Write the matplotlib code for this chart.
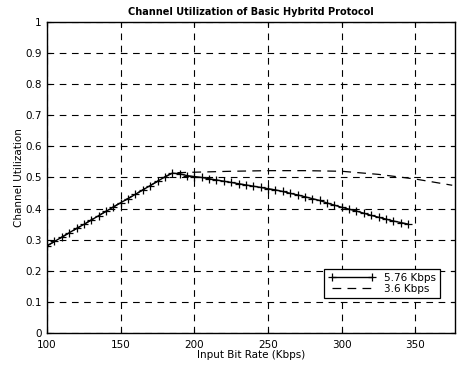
import matplotlib
matplotlib.use("Agg")
import matplotlib.pyplot as plt

# ── Data ───────────────────────────────────────────────────────────
rate_576 = [100, 105, 110, 115, 120, 125, 130, 135, 140, 145,
            150, 155, 160, 165, 170, 175, 180, 185, 190, 195,
            200, 205, 210, 215, 220, 225, 230, 235, 240, 245,
            250, 255, 260, 265, 270, 275, 280, 285, 290, 295,
            300, 305, 310, 315, 320, 325, 330, 335, 340, 345]
util_576 = [0.280, 0.294, 0.308, 0.322, 0.336, 0.349, 0.363, 0.377, 0.391, 0.405,
            0.419, 0.432, 0.446, 0.460, 0.474, 0.488, 0.502, 0.514, 0.512, 0.506,
            0.503, 0.500, 0.496, 0.492, 0.488, 0.484, 0.480, 0.476, 0.472, 0.468,
            0.464, 0.460, 0.455, 0.449, 0.444, 0.438, 0.432, 0.426, 0.418, 0.411,
            0.404, 0.398, 0.392, 0.385, 0.378, 0.372, 0.366, 0.360, 0.355, 0.350]

rate_36 = [100, 150, 185, 200, 225, 250, 275, 300, 325, 350, 375]
util_36 = [0.280, 0.419, 0.515, 0.517, 0.520, 0.522, 0.522, 0.520, 0.510, 0.495, 0.475]

x_ticks = [100, 150, 200, 250, 300, 350]
y_ticks = [0, 0.1, 0.2, 0.3, 0.4, 0.5, 0.6, 0.7, 0.8, 0.9, 1]
y_labels = ["0", "0.1", "0.2", "0.3", "0.4", "0.5", "0.6", "0.7", "0.8", "0.9", "1"]

fig = plt.figure(figsize=(4.57, 3.69), dpi=100)
ax = fig.add_axes([0.103, 0.098, 0.893, 0.842])

ax.plot(rate_36, util_36, color="black", lw=0.9, linestyle=(0, (7, 5)),
        label="3.6 Kbps")
ax.plot(rate_576, util_576, color="black", lw=1.0, marker="+", markersize=6,
        markeredgewidth=0.9, label="5.76 Kbps")

ax.set_xlim(100, 377)
ax.set_ylim(0, 1)
ax.set_xticks(x_ticks)
ax.set_yticks(y_ticks)
ax.set_yticklabels(y_labels)
ax.tick_params(direction="in", labelsize=7.5, length=3, top=True, right=True)
ax.tick_params(axis="x", pad=5)
ax.tick_params(axis="y", pad=4)
ax.grid(True, color="black", linestyle=(0, (6, 5)), lw=0.8)

for s in ax.spines.values():
    s.set_linewidth(1.0)

ax.set_title("Channel Utilization of Basic Hybritd Protocol", fontsize=7,
             fontweight="bold", pad=5)
ax.set_xlabel("Input Bit Rate (Kbps)", fontsize=7.5, labelpad=0)
ax.set_ylabel("Channel Utilization", fontsize=7.5, labelpad=1)

h, l = ax.get_legend_handles_labels()
leg = ax.legend(h[::-1], l[::-1], loc="lower right", bbox_to_anchor=(0.975, 0.096),
                fontsize=7.5, frameon=True, fancybox=False, edgecolor="black",
                handlelength=4.5, numpoints=2, borderpad=0.4, labelspacing=0.05)
leg.get_frame().set_linewidth(0.9)
leg.get_frame().set_alpha(1)

fig.savefig("out.png", dpi=100)
